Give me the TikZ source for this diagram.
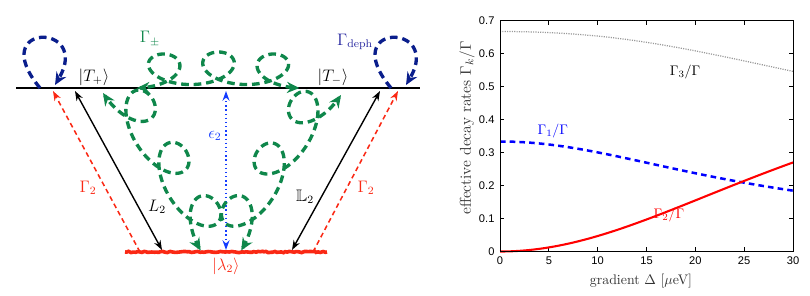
\documentclass[tikz,border=0pt]{standalone}
\usepackage{amsmath,amssymb}
\usepackage{fontspec}
\newfontfamily\ticksf{Liberation Sans}
\usetikzlibrary{arrows.meta,decorations.pathmorphing,calc}

\definecolor{gpath}{RGB}{15,135,75}
\definecolor{navyloop}{RGB}{10,30,140}
\definecolor{navytext}{RGB}{40,40,160}
\definecolor{redlev}{RGB}{250,40,20}
\definecolor{blueeps}{RGB}{20,60,255}

\begin{document}
\begin{tikzpicture}[x=0.72pt,y=0.72pt,
  lvl/.style={line width=1.4pt},
  botlvl/.style={redlev,line width=2.6pt,decorate,decoration={random steps,segment length=1.5pt,amplitude=0.5pt}},
  blk/.style={line width=1pt,{Stealth[length=7pt,width=5pt]}-{Stealth[length=7pt,width=5pt]}},
  gtwo/.style={redlev,line width=1.1pt,dash pattern=on 3.5pt off 2.5pt,-{Stealth[length=7pt,width=5pt]}},
  eps/.style={blueeps,line width=1.1pt,dash pattern=on 1pt off 2pt,{Stealth[length=7pt,width=5pt]}-{Stealth[length=7pt,width=5pt]}},
  loopy/.style={navyloop,line width=2.4pt,dash pattern=on 5.5pt off 3.5pt,-{Stealth[length=9pt,width=8pt]}},
  coilp/.style={gpath,line width=2.4pt,dash pattern=on 5.5pt off 3.5pt,
    {Stealth[length=9pt,width=8pt]}-{Stealth[length=9pt,width=8pt]}},
  lab/.style={font=\large},
  tick/.style={line width=0.5pt},
  tlab/.style={font=\ticksf\fontsize{8}{9}\selectfont,inner sep=1pt}]
\useasboundingbox (0,0) rectangle (810,295);

% levels
\coordinate (topL) at (16,207);
\coordinate (topR) at (420,207);
\coordinate (botL) at (125,43);
\coordinate (botR) at (327,43);
\draw[lvl] (topL) -- (topR);
\draw[botlvl] (botL) -- (botR);
\node[lab] (tp) at (94,218) {$|T_+\rangle$};
\node[lab] (tm) at (333,218) {$|T_-\rangle$};
\node[lab,text=redlev] (lam) at (226,29) {$|\lambda_2\rangle$};

% tunnelling
\coordinate (lt) at (75,204);
\coordinate (lb) at (162,45);
\coordinate (rt) at (380,204);
\coordinate (rb) at (292,45);
\draw[blk] (lt) -- (lb);
\draw[blk] (rt) -- (rb);
\node[lab] (Ltwo) at (157,88) {$L_2$};
\node[lab] (LLtwo) at (305,98) {$\mathbb{L}_2$};

% relaxation
\coordinate (glt) at (53,204);
\coordinate (glb) at (140,43);
\coordinate (grt) at (398,204);
\coordinate (grb) at (313,43);
\draw[gtwo] (glb) -- (glt);
\draw[gtwo] (grb) -- (grt);
\node[lab,text=redlev] (gl) at (88,107) {$\Gamma_2$};
\node[lab,text=redlev] (gr) at (366,107) {$\Gamma_2$};

% detuning
\coordinate (et) at (226,204);
\coordinate (eb) at (226,45);
\draw[eps] (et) -- (eb);
\node[lab,text=blueeps] (epsl) at (215,159) {$\epsilon_2$};

% dephasing loops
\coordinate (dls) at (40,207);
\coordinate (dle) at (55,210);
\coordinate (drs) at (391,207);
\coordinate (dre) at (406,210);
\draw[loopy] (dls) .. controls (-15,273) and (92,273) .. (dle);
\draw[loopy] (drs) .. controls (336,273) and (443,273) .. (dre);
\node[lab,text=navytext] (deph) at (355,253) {$\Gamma_{\mathrm{deph}}$};

% spin mixing (coiled paths, three loops each)
\coordinate (A) at (137,207);
\coordinate (C) at (103,202);
\coordinate (D) at (341,200);
\begin{scope}[shift={(A)}]
\draw[coilp] plot[domain=0:1,samples=240] ({163*\x+28*sin(1080*\x)},{4*sin(180*\x)+16*(1-cos(1080*\x))});
\end{scope}
\begin{scope}[shift={(C)},rotate=-58.2]
\draw[coilp] plot[domain=0:1,samples=240] ({185.9*\x+30*sin(1080*\x)},{2*sin(180*\x)+19*(1-cos(1080*\x))});
\end{scope}
\begin{scope}[shift={(D)},rotate=-122.7,yscale=-1]
\draw[coilp] plot[domain=0:1,samples=240] ({185.3*\x+30*sin(1080*\x)},{2*sin(180*\x)+19*(1-cos(1080*\x))});
\end{scope}
\node[lab,text=gpath] (gpm) at (150,256) {$\Gamma_\pm$};

% decay rates
\begin{scope}[shift={(500,43.5)},x=7.032pt,y=237.6pt]
\foreach \t in {0,5,...,30} {
  \draw[tick] (\t,0) -- ++(0,2.9pt);
  \draw[tick] (\t,0.7) -- ++(0,-2.9pt);
  \node[tlab,anchor=north] at (\t,-0.012) {\t};
}
\foreach \v/\lab in {0/0,1/0.1,2/0.2,3/0.3,4/0.4,5/0.5,6/0.6,7/0.7} {
  \draw[tick] (0,\v/10) -- ++(2.9pt,0);
  \draw[tick] (30,\v/10) -- ++(-2.9pt,0);
  \node[tlab,anchor=east] at (-0.4,\v/10) {\lab};
}
\draw[gray!80,line width=0.9pt,dash pattern=on 0.8pt off 0.9pt]
  plot[domain=0:30,samples=61] (\x,{2/3+0.266*\x*\x/(\x*\x+707)-0.664*\x*\x/(\x*\x+1315)});
\draw[blue,line width=1.8pt,dash pattern=on 4pt off 3pt]
  plot[domain=0:30,samples=61] (\x,{1/3-0.266*\x*\x/(\x*\x+707)});
\draw[red,line width=1.5pt]
  plot[domain=0:30,samples=61] (\x,{0.664*\x*\x/(\x*\x+1315)});
\draw[line width=0.6pt] (0,0) rectangle (30,0.7);
\node (gthree) at (18.95,0.545) {$\Gamma_3/\Gamma$};
\node[text=blue] (gone) at (5.41,0.364) {$\Gamma_1/\Gamma$};
\node[text=red] (gtwoc) at (17.3,0.11) {$\Gamma_2/\Gamma$};
\end{scope}
\node[rotate=90,text=black!80,font=\fontsize{11.3}{13}\selectfont] (ylab) at (467,167) {effective decay rates $\Gamma_k/\Gamma$};
\node[text=black!80] (xlab) at (641,14) {gradient $\Delta$ [$\mu$eV]};
\end{tikzpicture}
\end{document}
